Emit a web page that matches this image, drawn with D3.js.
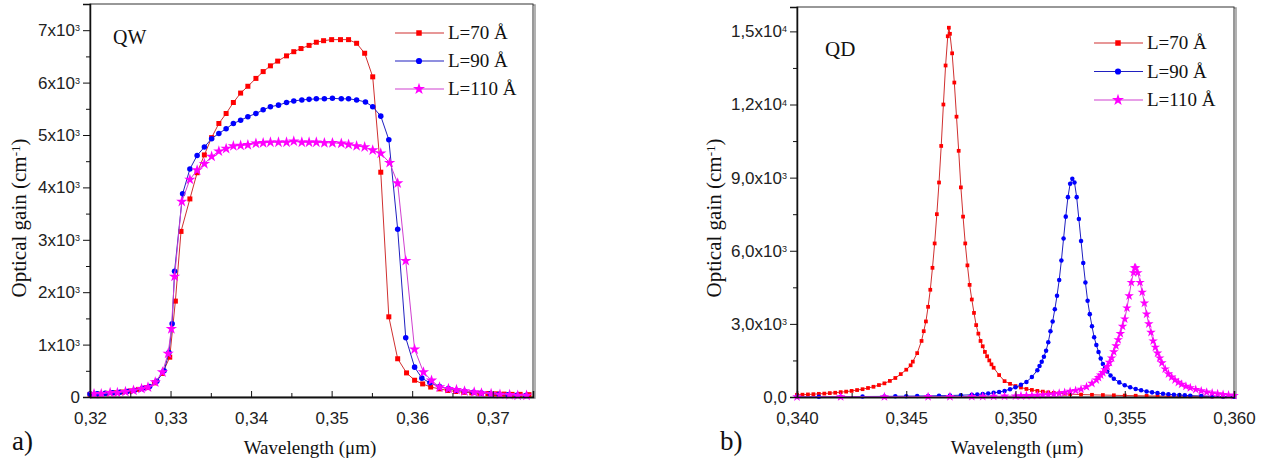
<!DOCTYPE html>
<html>
<head>
<meta charset="utf-8">
<script src="https://cdn.jsdelivr.net/npm/d3@7"></script>
<style>
  body { margin: 0; background: #fff; }
  svg { display: block; }
</style>
</head>
<body>
<div id="chart"></div>
<script>
// ---- QW panel (a) ----
var qwRedX = [0.3200,0.3210,0.3220,0.3230,0.3240,0.3250,0.3260,0.3270,0.3280,0.3290,0.3299,0.3306,0.3313,0.3324,0.3333,0.3342,0.3351,0.3360,0.3369,0.3378,0.3387,0.3396,0.3406,0.3415,0.3424,0.3433,0.3444,0.3453,0.3462,0.3472,0.3481,0.3490,0.3500,0.3511,0.3521,0.3531,0.3541,0.3551,0.3561,0.3571,0.3582,0.3593,0.3603,0.3613,0.3623,0.3634,0.3644,0.3654,0.3664,0.3674,0.3684,0.3694,0.3704,0.3714,0.3724,0.3734,0.3745];
var qwRedY = [50,55,70,80,95,115,145,180,270,450,760,1830,3160,3780,4280,4620,4950,5220,5410,5620,5800,5930,6080,6210,6320,6410,6510,6590,6650,6710,6770,6800,6820,6820,6820,6750,6560,6110,4290,1530,730,460,320,250,190,155,125,105,90,80,70,65,60,55,50,50,45];

var qwBlueX = [0.3200,0.3209,0.3219,0.3228,0.3237,0.3246,0.3255,0.3265,0.3274,0.3283,0.3292,0.3298,0.3302,0.3305,0.3315,0.3324,0.3333,0.3342,0.3351,0.3360,0.3369,0.3378,0.3387,0.3396,0.3406,0.3415,0.3424,0.3434,0.3444,0.3453,0.3463,0.3472,0.3481,0.3491,0.3501,0.3512,0.3521,0.3531,0.3542,0.3551,0.3561,0.3571,0.3582,0.3592,0.3603,0.3612,0.3622,0.3634,0.3645,0.3655,0.3665,0.3676,0.3686,0.3697,0.3708,0.3719,0.3730,0.3741];
var qwBlueY = [55,60,70,80,90,105,125,160,200,300,500,850,1400,2400,3880,4350,4610,4770,4930,5030,5120,5220,5280,5350,5410,5480,5540,5570,5620,5650,5670,5680,5690,5690,5700,5690,5690,5670,5630,5540,5360,4910,3200,1130,570,360,270,200,160,130,110,90,75,62,50,42,32,28];

var qwPinkX = [0.3205,0.3214,0.3225,0.3234,0.3244,0.3254,0.3264,0.3272,0.3281,0.3290,0.3297,0.3301,0.3305,0.3314,0.3324,0.3333,0.3342,0.3351,0.3360,0.3369,0.3378,0.3387,0.3396,0.3406,0.3415,0.3424,0.3434,0.3444,0.3453,0.3463,0.3472,0.3481,0.3491,0.3501,0.3512,0.3521,0.3531,0.3541,0.3551,0.3561,0.3572,0.3582,0.3592,0.3603,0.3614,0.3624,0.3634,0.3645,0.3655,0.3665,0.3677,0.3686,0.3698,0.3709,0.3721,0.3731,0.3742];
var qwPinkY = [60,60,80,80,100,125,157,188,284,475,830,1300,2300,3730,4150,4330,4450,4590,4690,4740,4790,4800,4810,4840,4850,4860,4860,4860,4880,4860,4860,4860,4850,4850,4840,4820,4790,4770,4710,4650,4470,4080,2600,910,475,316,188,157,138,111,92,73,61,48,42,29,29];

var qwTickX = [0.32,0.33,0.34,0.35,0.36,0.37];
var qwTickXLabels = ['0,32','0,33','0,34','0,35','0,36','0,37'];
var qwMinorX = [0.325,0.335,0.345,0.355,0.365,0.375];
var qwTickY = [0,1000,2000,3000,4000,5000,6000,7000];
var qwTickYLabels = ['0','1x10^3','2x10^3','3x10^3','4x10^3','5x10^3','6x10^3','7x10^3'];
var qwMinorY = [500,1500,2500,3500,4500,5500,6500,7500];

// ---- QD panel (b) ----
var qdRedX = [0.3400,0.34025,0.3405,0.34075,0.3410,0.34125,0.3415,0.34175,0.3420,0.34225,0.3425,0.34275,0.3430,0.34325,0.3435,0.34375,0.3440,0.34425,0.3445,0.34475,0.3450,0.3452,0.3453,0.3455,0.3457,0.3458,0.3459,0.3460,0.3461,0.3462,0.3463,0.3464,0.3465,0.3466,0.3467,0.3468,0.3469,0.34695,0.3470,0.3471,0.3472,0.3473,0.3474,0.3475,0.3476,0.3477,0.3478,0.3479,0.3480,0.3481,0.3482,0.3483,0.3484,0.3485,0.3486,0.3487,0.3488,0.3489,0.3490,0.34925,0.3495,0.34975,0.3500,0.35025,0.3505,0.35075,0.3510,0.35125,0.3515,0.35175,0.3520,0.35225,0.3525,0.3530,0.3535,0.3540,0.3545,0.3550,0.3555,0.3560,0.3565,0.3570,0.3575,0.3580,0.3585,0.3590,0.3595,0.3600];
var qdRedY = [90,95,105,115,130,140,160,175,200,220,250,285,320,370,420,490,560,660,780,940,1120,1300,1450,1800,2300,2700,3100,3700,4400,5300,6300,7500,8800,10300,12000,13600,14800,15150,14900,14100,12900,11500,10100,8600,7400,6300,5400,4600,4000,3450,2950,2600,2300,2080,1850,1670,1500,1340,1200,900,650,540,450,390,330,290,250,220,190,170,150,135,120,100,90,80,70,60,52,45,40,35,32,28,25,22,20,18];

var qdBlueX = [0.3400,0.3410,0.3420,0.3430,0.3440,0.3445,0.3450,0.3455,0.3460,0.3465,0.3470,0.3475,0.3480,0.34825,0.3485,0.34875,0.3490,0.34925,0.3495,0.34975,0.3500,0.35025,0.3505,0.35075,0.3510,0.3511,0.3512,0.3513,0.3514,0.3515,0.3516,0.3517,0.3518,0.3519,0.3520,0.3521,0.3522,0.3523,0.3524,0.3525,0.3526,0.3527,0.3528,0.3529,0.3530,0.3531,0.3532,0.3533,0.3534,0.3535,0.3536,0.3537,0.3538,0.3539,0.3540,0.3541,0.3542,0.35435,0.3545,0.35475,0.3550,0.35525,0.3555,0.35575,0.3560,0.35625,0.3565,0.35675,0.3570,0.35725,0.3575,0.35775,0.3580,0.3585,0.3590,0.3595,0.3600];
var qdBlueY = [10,12,15,20,25,30,35,40,45,52,60,75,90,105,120,140,170,205,250,320,400,500,620,820,1100,1270,1450,1650,1900,2250,2700,3100,3600,4150,4800,5600,6500,7400,8200,8750,8950,8800,8200,7300,6400,5500,4700,3950,3400,2900,2450,2130,1850,1580,1350,1190,1050,880,750,600,480,400,330,275,230,190,160,130,110,95,80,67,55,42,30,22,15];

var qdPinkX = [0.3400,0.3420,0.3440,0.3460,0.3470,0.3480,0.3485,0.3490,0.3495,0.3500,0.35025,0.3505,0.35075,0.3510,0.35125,0.3515,0.35175,0.3520,0.35225,0.3525,0.35275,0.3530,0.35325,0.3535,0.3537,0.3538,0.3539,0.3540,0.3541,0.3542,0.3543,0.3544,0.3545,0.3546,0.3547,0.3548,0.3549,0.3550,0.3551,0.3552,0.3553,0.3554,0.35545,0.3555,0.3556,0.3557,0.3558,0.3559,0.3560,0.3561,0.3562,0.3563,0.3564,0.3565,0.3566,0.3567,0.35685,0.3570,0.35715,0.3573,0.35745,0.3576,0.3578,0.3580,0.35825,0.3585,0.35875,0.3590,0.35925,0.3595,0.35975,0.3600];
var qdPinkY = [5,8,10,14,17,20,25,30,35,40,50,57,63,70,85,100,120,150,185,230,270,320,420,560,700,800,900,1000,1120,1250,1420,1600,1850,2100,2350,2600,2900,3200,3650,4150,4700,5100,5300,5300,5100,4700,4300,3850,3400,3000,2650,2300,2040,1800,1600,1400,1150,950,820,700,600,520,440,380,310,250,200,160,130,100,80,60];

var qdTickX = [0.340,0.345,0.350,0.355,0.360];
var qdTickXLabels = ['0,340','0,345','0,350','0,355','0,360'];
var qdMinorX = [0.3425,0.3475,0.3525,0.3575];
var qdTickY = [0,3000,6000,9000,12000,15000];
var qdTickYLabels = ['0,0','3,0x10^3','6,0x10^3','9,0x10^3','1,2x10^4','1,5x10^4'];
var qdMinorY = [1500,4500,7500,10500,13500];

var seriesNames = ['L=70 \u00C5', 'L=90 \u00C5', 'L=110 \u00C5'];
var lineColors = ['#d03030', '#2020c0', '#d040d0'];
var markColors = ['#ff0000', '#0000ff', '#ff00ff'];

var SERIF = '"Liberation Serif", "Times New Roman", serif';
var SANS = '"Liberation Sans", Arial, sans-serif';

var svg = d3.select('#chart').append('svg')
  .attr('width', 1269)
  .attr('height', 468);

function zip(xs, ys) {
  return xs.map(function(v, i) { return [v, ys[i]]; });
}

function serifText(sel, size) {
  return sel.append('text')
    .style('font-family', SERIF)
    .style('font-size', size + 'px')
    .attr('fill', '#111');
}

function drawPanel(opt) {
  var x = d3.scaleLinear().domain(opt.xDomain).range([opt.left, opt.right]);
  var y = d3.scaleLinear().domain(opt.yDomain).range([opt.bottom, opt.top]);
  var g = svg.append('g');

  // frame (top/right with a soft shadow)
  g.append('rect')
    .attr('x', opt.left + 1).attr('y', opt.top + 1)
    .attr('width', opt.right - opt.left + 1).attr('height', opt.bottom - opt.top)
    .attr('fill', 'none').attr('stroke', '#999').attr('stroke-width', 1.5);
  g.append('rect')
    .attr('x', opt.left).attr('y', opt.top)
    .attr('width', opt.right - opt.left).attr('height', opt.bottom - opt.top)
    .attr('fill', '#fff').attr('stroke', '#333').attr('stroke-width', 1);

  // curves
  var line = d3.line().x(function(d) { return x(d[0]); }).y(function(d) { return y(d[1]); });
  opt.series.forEach(function(s, i) {
    var pts = zip(s[0], s[1]);
    g.append('path').datum(pts)
      .attr('d', line)
      .attr('fill', 'none')
      .attr('stroke', lineColors[i])
      .attr('stroke-width', 1);
    g.selectAll(null).data(pts).enter().append('path')
      .attr('d', d3.symbol().type(opt.symbols[i]).size(opt.symSizes[i]))
      .attr('transform', function(d) { return 'translate(' + x(d[0]) + ',' + y(d[1]) + ')'; })
      .attr('fill', markColors[i]);
  });

  // axes
  g.append('g').attr('transform', 'translate(0,' + opt.bottom + ')')
    .call(d3.axisBottom(x).tickValues(opt.tickX).tickSize(-6).tickPadding(15)
      .tickFormat(function(d, i) { return opt.tickXLabels[i]; }));
  g.append('g').attr('transform', 'translate(0,' + opt.bottom + ')')
    .call(d3.axisBottom(x).tickValues(opt.minorX).tickSize(-4).tickFormat(''))
    .select('.domain').remove();
  var ya = g.append('g').attr('transform', 'translate(' + opt.left + ',0)')
    .call(d3.axisLeft(y).tickValues(opt.tickY).tickSize(7).tickPadding(3)
      .tickFormat(function(d, i) { return opt.tickYLabels[i]; }));
  g.append('g').attr('transform', 'translate(' + opt.left + ',0)')
    .call(d3.axisLeft(y).tickValues(opt.minorY).tickSize(4).tickFormat(''))
    .select('.domain').remove();
  g.selectAll('.domain').attr('stroke', '#111').attr('stroke-width', 1.5);
  g.selectAll('.tick line').attr('stroke', '#111');
  g.selectAll('.tick text')
    .style('font-family', SANS).style('font-size', '17px').attr('fill', '#222');

  // superscripts in y labels
  ya.selectAll('.tick text').each(function() {
    var t = d3.select(this);
    var parts = t.text().split('^');
    if (parts.length < 2) return;
    t.text(parts[0]);
    t.append('tspan').attr('dy', '-0.55em').style('font-size', '9px').text(parts[1]);
  });

  // axis titles
  var yt = serifText(g, 21)
    .attr('transform', 'translate(' + opt.yTitleX + ',' + opt.yTitleY + ') rotate(-90)')
    .attr('text-anchor', 'middle');
  yt.append('tspan').text('Optical gain (cm');
  yt.append('tspan').attr('dy', '-0.5em').style('font-size', '13px').text('-1');
  yt.append('tspan').attr('dy', '0.3em').text(')');

  serifText(g, 19)
    .attr('x', opt.xTitleX).attr('y', 454)
    .attr('text-anchor', 'middle')
    .text('Wavelength (\u03BCm)');

  serifText(g, opt.tagSize)
    .attr('x', opt.tagX).attr('y', opt.tagY)
    .text(opt.tag);

  serifText(g, 27)
    .attr('x', opt.panelLabelX).attr('y', 450)
    .text(opt.panelLabel);

  // legend
  seriesNames.forEach(function(name, i) {
    var ly = opt.legY + i * opt.legStep;
    g.append('line')
      .attr('x1', opt.legX).attr('x2', opt.legX + 49)
      .attr('y1', ly).attr('y2', ly)
      .attr('stroke', lineColors[i]).attr('stroke-width', 1.2);
    g.append('path')
      .attr('d', d3.symbol().type(opt.symbols[i]).size(opt.legSizes[i]))
      .attr('transform', 'translate(' + (opt.legX + 24) + ',' + ly + ')')
      .attr('fill', markColors[i]);
    serifText(g, 19)
      .attr('x', opt.legX + 53).attr('y', ly + 6)
      .text(name);
  });
}

drawPanel({
  left: 90, right: 533, top: 4, bottom: 397,
  xDomain: [0.32, 0.375], yDomain: [0, 7500],
  series: [[qwRedX, qwRedY], [qwBlueX, qwBlueY], [qwPinkX, qwPinkY]],
  symbols: [d3.symbolSquare, d3.symbolCircle, d3.symbolStar],
  symSizes: [25, 24, 40], legSizes: [30, 30, 45],
  tickX: qwTickX, tickXLabels: qwTickXLabels, minorX: qwMinorX,
  tickY: qwTickY, tickYLabels: qwTickYLabels, minorY: qwMinorY,
  yTitleX: 26, yTitleY: 218, xTitleX: 310,
  tag: 'QW', tagX: 113, tagY: 44, tagSize: 20,
  panelLabel: 'a)', panelLabelX: 12,
  legX: 395, legY: 33, legStep: 28
});

drawPanel({
  left: 797, right: 1234, top: 7, bottom: 397,
  xDomain: [0.34, 0.36], yDomain: [0, 16000],
  series: [[qdRedX, qdRedY], [qdBlueX, qdBlueY], [qdPinkX, qdPinkY]],
  symbols: [d3.symbolSquare, d3.symbolCircle, d3.symbolStar],
  symSizes: [14, 16, 28], legSizes: [30, 30, 45],
  tickX: qdTickX, tickXLabels: qdTickXLabels, minorX: qdMinorX,
  tickY: qdTickY, tickYLabels: qdTickYLabels, minorY: qdMinorY,
  yTitleX: 721, yTitleY: 218, xTitleX: 1017,
  tag: 'QD', tagX: 825, tagY: 56, tagSize: 21,
  panelLabel: 'b)', panelLabelX: 720,
  legX: 1094, legY: 43, legStep: 28.5
});
</script>
</body>
</html>
